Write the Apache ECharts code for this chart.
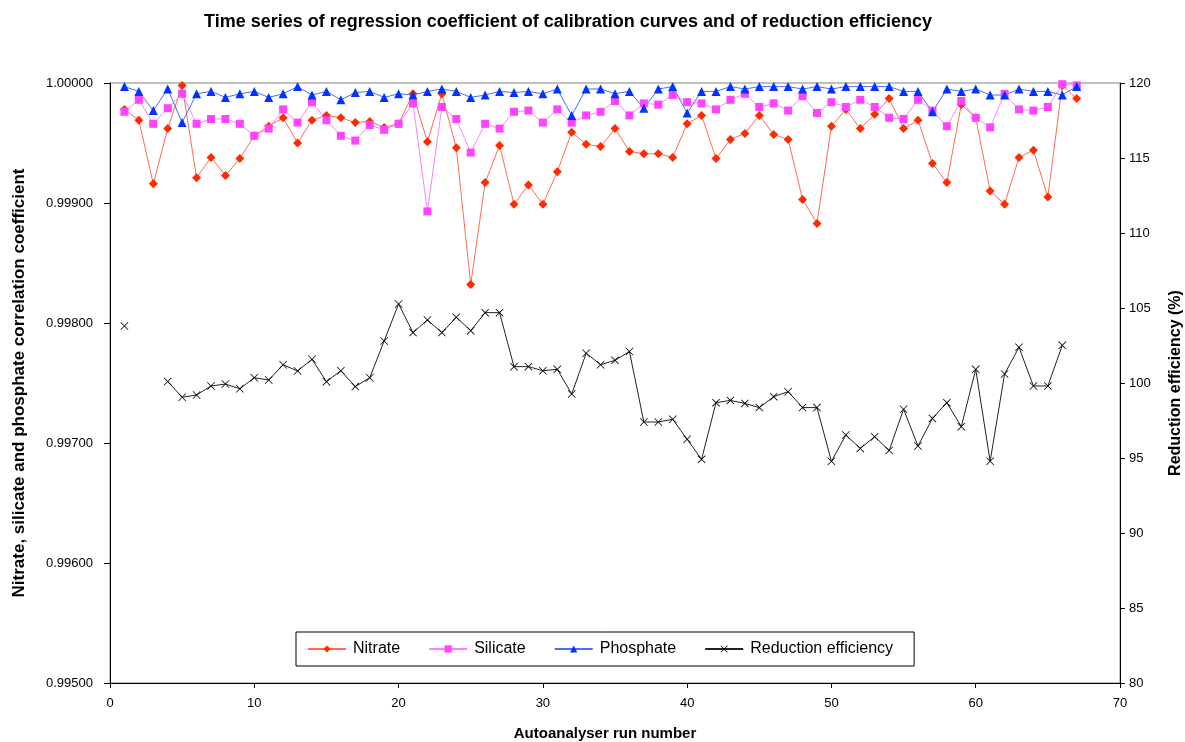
<!DOCTYPE html>
<html>
<head>
<meta charset="utf-8">
<script src="https://cdn.jsdelivr.net/npm/echarts@6/dist/echarts.min.js"></script>
<style>
html,body{margin:0;padding:0;background:#fff;overflow:hidden;}
#chart{width:1185px;height:742px;}
</style>
</head>
<body>
<div id="chart"></div>
<script>
const runNumbers = Array.from({length: 67}, (_, i) => i + 1);

const nitrate = [0.99978,0.99969,0.99916,0.99962,0.99998,0.99921,0.99938,0.99923,0.99937,0.99956,
0.99964,0.99971,0.99950,0.99969,0.99973,0.99971,0.99967,0.99968,0.99963,0.99966,
0.99991,0.99951,0.99991,0.99946,0.99832,0.99917,0.99948,0.99899,0.99915,0.99899,
0.99926,0.99959,0.99949,0.99947,0.99962,0.99943,0.99941,0.99941,0.99938,0.99966,
0.99973,0.99937,0.99953,0.99958,0.99973,0.99957,0.99953,0.99903,0.99883,0.99964,
0.99978,0.99962,0.99974,0.99987,0.99962,0.99969,0.99933,0.99917,0.99982,0.99971,
0.99910,0.99899,0.99938,0.99944,0.99905,0.99998,0.99987];

const silicate = [0.99976,0.99986,0.99966,0.99979,0.99991,0.99966,0.99970,0.99970,0.99966,0.99956,
0.99962,0.99978,0.99967,0.99984,0.99969,0.99956,0.99952,0.99965,0.99961,0.99966,
0.99983,0.99893,0.99980,0.99970,0.99942,0.99966,0.99962,0.99976,0.99977,0.99967,
0.99978,0.99967,0.99973,0.99976,0.99985,0.99973,0.99983,0.99982,0.99990,0.99984,
0.99983,0.99978,0.99986,0.99991,0.99980,0.99983,0.99977,0.99989,0.99975,0.99984,
0.99980,0.99986,0.99980,0.99971,0.99970,0.99986,0.99977,0.99964,0.99985,0.99971,
0.99963,0.99991,0.99978,0.99977,0.99980,0.99999,0.99998];

const phosphate = [0.99997,0.99993,0.99977,0.99995,0.99967,0.99991,0.99993,0.99988,0.99991,0.99993,
0.99988,0.99991,0.99997,0.99990,0.99993,0.99986,0.99992,0.99993,0.99988,0.99991,
0.99990,0.99993,0.99995,0.99993,0.99988,0.99990,0.99993,0.99992,0.99993,0.99991,
0.99995,0.99973,0.99995,0.99995,0.99991,0.99993,0.99979,0.99995,0.99997,0.99975,
0.99993,0.99993,0.99997,0.99995,0.99997,0.99997,0.99997,0.99995,0.99997,0.99995,
0.99997,0.99997,0.99997,0.99997,0.99993,0.99993,0.99976,0.99995,0.99993,0.99995,
0.99990,0.99990,0.99995,0.99993,0.99993,0.99990,0.99997];

const reduction = [103.8,null,null,100.1,99.05,99.2,99.8,99.93,99.62,100.35,
100.2,101.22,100.8,101.58,100.09,100.82,99.76,100.35,102.8,105.27,
103.36,104.2,103.36,104.38,103.49,104.69,104.69,101.09,101.09,100.82,
100.91,99.27,101.98,101.22,101.51,102.1,97.4,97.4,97.58,96.25,
94.91,98.69,98.84,98.64,98.36,99.09,99.42,98.36,98.36,94.78,
96.53,95.64,96.42,95.5,98.25,95.8,97.64,98.69,97.09,100.91,
94.78,100.6,102.38,99.8,99.8,102.51,null];

const leftTicks = [0.995, 0.996, 0.997, 0.998, 0.999, 1.0];
const rightTicks = [80, 85, 90, 95, 100, 105, 110, 115, 120];
const xTicks = [0, 10, 20, 30, 40, 50, 60, 70];

function pairs(arr) { return runNumbers.map((n, i) => [n, arr[i]]); }

const FONT = '"Liberation Sans", Arial, sans-serif';
const crossPath = 'path://M0,0.7 L0.7,0 L5,4.3 L9.3,0 L10,0.7 L5.7,5 L10,9.3 L9.3,10 L5,5.7 L0.7,10 L0,9.3 L4.3,5 Z';

const chart = echarts.init(document.getElementById('chart'), null, {renderer: 'canvas'});
chart.setOption({
  animation: false,
  backgroundColor: '#fff',
  textStyle: {fontFamily: FONT},
  title: {
    text: 'Time series of regression coefficient of calibration curves and of reduction efficiency',
    left: 563, top: 8, textAlign: 'center',
    textStyle: {fontFamily: FONT, fontSize: 18, fontWeight: 'bold', color: '#000'}
  },
  grid: {left: 110, right: 65, top: 83, bottom: 59, show: true, borderColor: '#808080', borderWidth: 1,
         containLabel: false, outerBoundsMode: 'none'},
  legend: {
    left: 296, top: 632,
    borderColor: '#000', borderWidth: 1,
    padding: [9, 21, 9, 11],
    itemGap: 28, itemWidth: 38, itemHeight: 9,
    textStyle: {fontFamily: FONT, fontSize: 16, color: '#000', padding: [0, 0, 0, 2]},
    data: ['Nitrate', 'Silicate', 'Phosphate', 'Reduction efficiency']
  },
  xAxis: {
    type: 'value', min: xTicks[0], max: xTicks[xTicks.length - 1], interval: 10,
    name: 'Autoanalyser run number', nameLocation: 'middle', nameGap: 43,
    nameTextStyle: {fontFamily: FONT, fontSize: 15, fontWeight: 'bold', color: '#000', padding: [0, 20, 0, 0]},
    axisLine: {lineStyle: {color: '#000', width: 1}},
    axisTick: {show: true, inside: false, length: 5, lineStyle: {color: '#000'}},
    axisLabel: {fontFamily: FONT, fontSize: 13, color: '#000', margin: 14},
    splitLine: {show: false}
  },
  yAxis: [{
    type: 'value', min: leftTicks[0], max: leftTicks[leftTicks.length - 1], interval: 0.001,
    position: 'left',
    name: 'Nitrate, silicate and phosphate correlation coefficient', nameLocation: 'middle', nameGap: 82,
    nameTextStyle: {fontFamily: FONT, fontSize: 17, fontWeight: 'bold', color: '#000'},
    axisLine: {show: true, lineStyle: {color: '#000', width: 1}},
    axisTick: {show: true, inside: false, length: 6, lineStyle: {color: '#000'}},
    axisLabel: {fontFamily: FONT, fontSize: 13, color: '#000', margin: 17, formatter: v => v.toFixed(5)},
    splitLine: {show: false}
  }, {
    type: 'value', min: rightTicks[0], max: rightTicks[rightTicks.length - 1], interval: 5,
    position: 'right',
    name: 'Reduction efficiency (%)', nameLocation: 'middle', nameGap: 48, nameRotate: 90,
    nameTextStyle: {fontFamily: FONT, fontSize: 16, fontWeight: 'bold', color: '#000'},
    axisLine: {show: true, lineStyle: {color: '#000', width: 1}},
    axisTick: {show: true, inside: false, length: 5, lineStyle: {color: '#000'}},
    axisLabel: {fontFamily: FONT, fontSize: 13, color: '#000', margin: 9},
    splitLine: {show: false}
  }],
  series: [{
    name: 'Nitrate', type: 'line', yAxisIndex: 0, data: pairs(nitrate),
    symbol: 'diamond', symbolSize: 9,
    itemStyle: {color: '#FF2A00'},
    lineStyle: {color: '#FF6A50', width: 1}
  }, {
    name: 'Silicate', type: 'line', yAxisIndex: 0, data: pairs(silicate),
    symbol: 'rect', symbolSize: 8,
    itemStyle: {color: '#FF44FF'},
    lineStyle: {color: '#FF80FF', width: 1}
  }, {
    name: 'Phosphate', type: 'line', yAxisIndex: 0, data: pairs(phosphate),
    symbol: 'triangle', symbolSize: 9,
    itemStyle: {color: '#0033FF'},
    lineStyle: {color: '#4D6BFF', width: 1}
  }, {
    name: 'Reduction efficiency', type: 'line', yAxisIndex: 1, data: pairs(reduction),
    connectNulls: false,
    symbol: crossPath, symbolSize: 8,
    itemStyle: {color: '#000'},
    lineStyle: {color: '#222', width: 1}
  }]
});
</script>
</body>
</html>
